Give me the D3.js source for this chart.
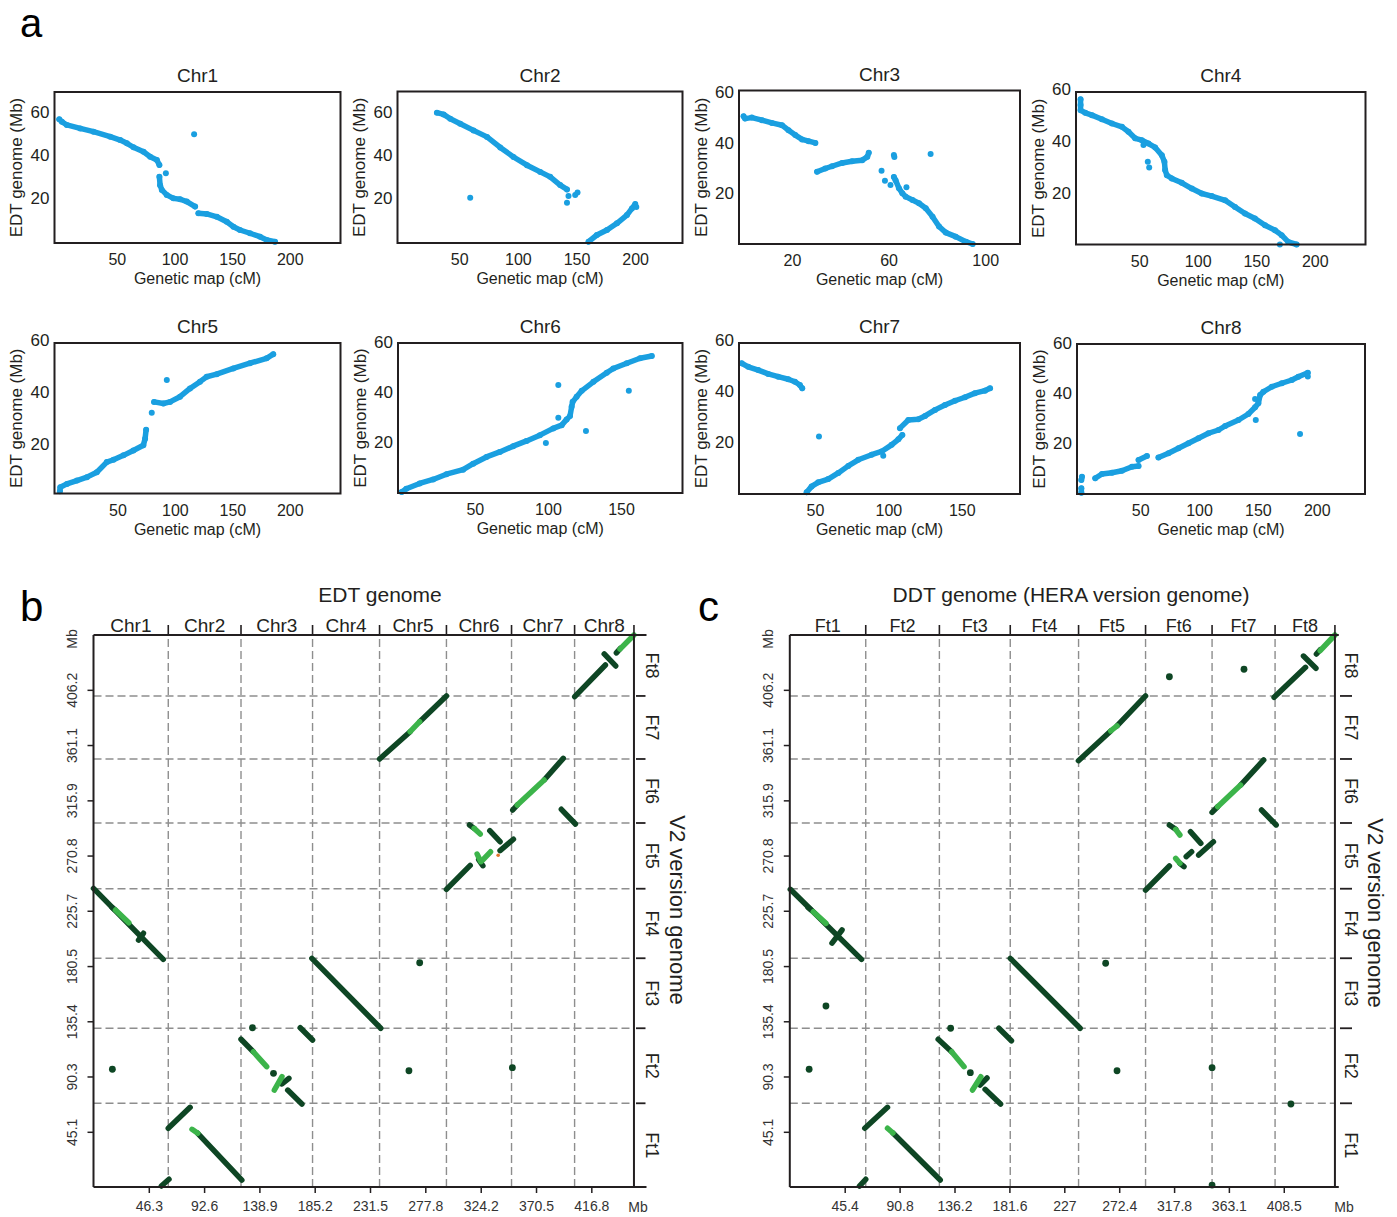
<!DOCTYPE html>
<html>
<head>
<meta charset="utf-8">
<script src="https://cdn.jsdelivr.net/npm/d3@7/dist/d3.min.js"></script>
<style>
html,body{margin:0;padding:0;background:#fff;}
svg text{font-family:"Liberation Sans",Arial,Helvetica,sans-serif;}
</style>
</head>
<body>
<svg id="fig" width="1397" height="1217"></svg>
<script>
// ================= DATA =================
// Panel a: genetic map (cM) vs EDT genome (Mb)
const chrNames = ["Chr1","Chr2","Chr3","Chr4","Chr5","Chr6","Chr7","Chr8"];
const aYTicks = [20,40,60];
const aXTicks = [[50,100,150,200],[50,100,150,200],[20,60,100],[50,100,150,200],[50,100,150,200],[50,100,150],[50,100,150],[50,100,150,200]];

const chr1Runs = [
 [[0,56.5],[2.3,55.4],[6.6,53.9],[18.2,52.3],[29.7,50.8],[44.2,48.5],[52.9,46.9],[58.7,45.4],[64.4,43.6],[73.1,41.5],[78.9,39.2],[84.7,37.7],[86.9,35.4]],
 [[86.9,30.0],[87.5,26.1],[89.0,23.9],[93.3,21.6],[99.0,20.0],[104.9,19.6],[110.7,18.5],[117.9,16.2]],
 [[120.7,13.1],[128.0,12.8],[136.7,11.5],[145.3,9.2],[151.1,6.9],[156.8,5.4],[165.5,3.9],[174.2,2.3],[180.0,0.8],[187.2,0]]
];
const chr1Out = [[117,49.6],[92.5,31.6]];
const chr2Runs = [
 [[31.0,59.7],[36.7,58.9],[42.4,56.9],[50.9,54.6],[62.2,51.5],[73.7,48.5],[85.0,43.6],[96.3,39.2],[107.8,35.4],[119.1,32.3],[127.6,30.0],[136.1,26.2],[141.9,24.2]],
 [[160.3,0],[167.4,3.1],[176.0,5.4],[184.5,8.5],[193.0,12.3],[197.3,15.4],[200.1,17.4]]
];
const chr2Out = [[59.4,20.3],[141.9,18.0],[143.2,21.1],[148.9,21.6],[150.9,22.8],[201,16]];
const chr3Runs = [
 [[0,50.4],[0.6,49.5],[3.4,49.9],[7.6,48.9],[11.7,47.8],[15.9,46.9],[18.6,44.9],[21.4,43.0],[24.2,41.3],[26.9,40.6],[29.7,39.9]],
 [[30.4,28.5],[33.8,29.8],[36.6,30.7],[40.8,32.0],[44.9,32.7],[49.1,33.1],[51.2,34.4],[51.8,36.0]],
 [[62.2,26.5],[62.9,25.2],[64.3,22.0],[65.7,20.0],[67.1,18.7],[69.9,17.4],[72.6,16.1],[75.4,14.1],[78.2,10.8],[80.9,6.9],[83.7,4.5],[87.8,2.9],[92.0,0.9],[94.8,0]]
];
const chr3Out = [[57.1,28.9],[58.5,25.0],[60.8,23.3],[62.2,35.1],[62.4,34.3],[77.4,35.5],[67.4,22.4]];
const chr4Runs = [
 [[0,56.2],[0,54.0],[0,52.0],[4.0,51.0],[9.7,50.1],[18.2,48.5],[26.8,46.9],[35.3,45.6],[40.9,43.7],[46.6,41.2],[52.3,40.5],[58.0,39.2],[63.7,37.7],[69.4,34.7],[71.6,32.2],[72.2,29.0],[73.7,27.0],[77.9,25.8],[86.4,24.1],[95.0,21.9],[103.5,20.0],[112.0,19.0],[123.4,17.4],[131.9,14.8],[140.4,12.3],[148.9,10.4],[157.5,7.8],[166.0,5.9],[171.7,4.0],[177.3,1.4],[184.5,0.4]]
];
const chr4Out = [[57.4,32.2],[58.6,30.0],[53.7,38.6],[170.2,0.4]];
const chr5Runs = [
 [[0,1.7],[0.3,3.2],[6.1,4.5],[14.8,5.8],[23.5,7.1],[32.1,9.0],[40.8,12.9],[46.6,13.8],[55.3,15.5],[63.9,17.4],[72.6,19.4],[74.1,21.9],[75.0,25.4]],
 [[81.9,36.1],[90.0,35.5],[95.8,36.1],[104.5,38.1],[113.2,41.3],[121.9,43.9],[127.7,45.8],[136.4,46.8],[150.8,49.0],[165.3,51.0],[179.8,52.9],[185.6,54.5]]
];
const chr5Out = [[79.9,31.9],[93.0,44.5]];
const chr6Runs = [
 [[0,0],[3.2,1.3],[12.3,3.4],[21.5,5.0],[30.6,7.1],[42.0,8.9],[48.9,11.3],[58.0,14.0],[67.1,16.0],[76.2,18.3],[85.4,20.4],[94.5,22.7],[103.6,25.4],[109.4,26.7],[112.8,29.0],[115.1,30.3],[116.2,34.0],[116.9,36.0],[119.6,38.0],[123.1,40.4],[131.1,44.0],[140.2,47.6],[144.7,49.3],[153.9,51.4],[163.0,53.4],[171.0,54.3]]
];
const chr6Out = [[98.6,19.6],[107.1,42.7],[107.1,29.6],[126.0,24.4],[155.3,40.4]];
const chr7Runs = [
 [[0,50.9],[4.5,49.5],[11.3,48.2],[18.1,46.7],[24.9,45.6],[31.8,44.6],[36.3,43.6],[39.7,42.3],[41.3,41.0]],
 [[44.3,0],[47.7,2.3],[52.2,3.9],[59.0,5.2],[65.9,7.6],[72.7,10.4],[79.5,12.8],[88.6,14.8],[95.4,16.1],[102.2,18.7],[106.8,20.9],[109.5,22.6]],
 [[107.9,25.3],[113.6,28.5],[120.4,28.8],[125.0,30.1],[131.8,32.5],[138.6,34.4],[145.4,36.1],[152.2,37.5],[159.0,39.1],[165.8,40.1],[169.3,41.0]]
];
const chr7Out = [[52.7,22.0],[96.5,14.4]];
const chr8Runs = [
 [[0,0],[0,1.8]],
 [[0,5.1],[0.5,6.4]],
 [[11.8,5.8],[17.5,7.5],[26.0,8.0],[34.5,8.8],[43.0,10.4],[48.6,10.7]],
 [[48.6,13.1],[55.7,14.7]],
 [[65.5,14.1],[74.0,15.8],[82.5,17.8],[91.0,19.8],[99.5,21.8],[108.0,23.8],[116.5,25.1],[122.2,26.7],[133.5,29.1],[141.9,31.5],[147.6,34.2],[150.4,35.8],[151.9,39.1],[154.7,40.4],[161.8,42.4],[170.3,43.8],[178.8,45.1],[184.4,46.4],[192.4,48.0]]
];
const chr8Out = [[148.2,29.1],[185.8,23.5],[147.6,37.5],[192.4,46.5]];

const aRuns = [chr1Runs,chr2Runs,chr3Runs,chr4Runs,chr5Runs,chr6Runs,chr7Runs,chr8Runs];
const aOut  = [chr1Out,chr2Out,chr3Out,chr4Out,chr5Out,chr6Out,chr7Out,chr8Out];

// Panel b / c: dot plots (cumulative Mb)
const edtChrNames = ["Chr1","Chr2","Chr3","Chr4","Chr5","Chr6","Chr7","Chr8"];
const edtChrEnds  = [62.6,123.5,183.4,239.5,295.5,350.0,402.8,452.5];
const ddtChrNames = ["Ft1","Ft2","Ft3","Ft4","Ft5","Ft6","Ft7","Ft8"];
const ddtChrEnds  = [62.8,123.7,182.3,238.8,294.2,349.2,401.3,450.8];
const v2ChrNames  = ["Ft1","Ft2","Ft3","Ft4","Ft5","Ft6","Ft7","Ft8"];
const v2ChrEnds   = [68.4,129.7,186.9,243.7,297.4,349.7,401.2,451.0];
const v2TickLabels  = ["45.1","90.3","135.4","180.5","225.7","270.8","315.9","361.1","406.2"];
const edtTickLabels = ["46.3","92.6","138.9","185.2","231.5","277.8","324.2","370.5","416.8"];
const ddtTickLabels = ["45.4","90.8","136.2","181.6","227","272.4","317.8","363.1","408.5"];

// segments [x1,y1,x2,y2]
const bDarkSegs = [
 [402.9,400.6,428.6,426.5],[427.6,435.5,437.2,425.7],[437.8,436.4,441.0,440.0],
 [239.5,349.7,265.1,372.0],[273.1,380.2,295.5,401.2],
 [351.0,308.0,354.8,312.1],[377.3,332.5,393.3,350.2],[391.7,308.6,403.5,296.6],
 [295.5,243.2,315.4,262.8],[322.5,267.5,326.0,262.5],[340.4,274.8,351.6,284.1],[331.8,291.1,340.4,282.1],[314.8,295.8,318.7,293.0],
 [0,244.0,58.4,186.0],[15.5,228.5,18.0,226.5],[37.7,201.8,41.8,207.3],
 [182.8,186.8,240.5,129.7],
 [123.5,120.7,133.8,110.5],[157.8,84.2,163.6,88.8],[162.6,79.2,174.5,67.8],[173.1,130.1,183.4,120.1],
 [62.6,48.0,80.9,65.1],[87.3,43.9,124.2,5.7],[56.8,0.8,63.2,6.3]
];
const bLightSegs = [
 [440.8,439.5,452.5,451.0],[265.1,372.0,273.1,380.2],[354.8,312.1,377.3,332.5],
 [326.0,267.2,332.4,273.9],[321.2,272.0,324.3,265.8],[318.7,293.0,323.8,288.4],
 [18.4,226.3,29.6,215.9],[133.8,110.5,145.0,98.3],[151.4,79.2,157.8,90.1],[82.5,47.1,87.3,43.9]
];
const bDots = [[273.1,183.2],[133.1,130.1],[15.8,96.2],[264.1,95.0],[350.7,97.5],[150.7,92.9]];
const bOddDots = [[338.8,271.0]];

const cDarkSegs = [
 [400.5,400.1,426.5,424.6],[424.8,433.8,435.1,423.8],[435.5,435.5,438.6,439.0],
 [238.7,348.3,265.4,372.6],[270.6,376.7,294.2,401.2],
 [349.2,306.1,353.8,310.7],[372.8,328.4,391.9,348.9],[390.1,308.0,402.2,295.8],
 [294.2,242.6,313.9,262.3],[322.6,264.5,326.0,261.7],[327.8,269.9,332.3,273.9],[338.1,271.2,350.3,282.1],[331.3,290.3,339.9,280.8],[313.9,295.8,319.1,292.2],
 [0.4,243.2,59.3,186.0],[15.0,228.5,17.5,226.5],[34.9,199.3,43.2,210.0],
 [182.3,186.8,240.1,129.7],
 [122.7,120.7,133.8,110.5],[157.3,83.3,163.1,89.1],[161.5,79.8,174.3,67.8],[172.9,129.7,183.3,119.5],
 [62.0,48.0,80.8,65.1],[85.3,44.1,124.4,5.7],[57.6,0.8,62.8,6.3]
];
const cLightSegs = [
 [438.6,438.2,450.8,451.0],[265.4,372.6,270.6,376.7],[353.8,310.7,372.8,328.4],
 [319.1,268.5,322.6,264.5],[319.1,292.2,322.6,287.6],
 [19.4,224.9,29.9,215.4],[133.8,110.5,144.1,98.3],[151.1,79.2,158.0,90.1],[80.8,48.0,85.3,44.1]
];
const cDots = [[313.9,416.9],[375.6,423.0],[29.9,147.9],[261.2,182.8],[133.0,129.7],[16.0,96.2],[270.6,95.0],[349.2,97.5],[414.4,67.8],[349.2,1.6],[149.3,93.4]];

// ================= DRAWING =================
const INK = "#231f20", BLUE = "#1a9fe0", DARK = "#0e4624", LIGHT = "#3cb44a", GRID = "#8e8e8e";
const svg = d3.select("#fig");

svg.append("text").attr("x",20).attr("y",37).attr("font-size",40).attr("fill","#000").text("a");
svg.append("text").attr("x",20).attr("y",621).attr("font-size",42).attr("fill","#000").text("b");
svg.append("text").attr("x",698).attr("y",621).attr("font-size",42).attr("fill","#000").text("c");

// ---- Panel a ----
const aLayout = [
 {l:54.5,r:340.5,t:92,b:243,xd:[-4.1,244],yd:[-0.6,69.1]},
 {l:397.5,r:682.5,t:91.5,b:243,xd:[-2.6,240.4],yd:[-0.6,69.5]},
 {l:739,r:1020,t:90.5,b:244,xd:[-1.9,114.4],yd:[0,60.6]},
 {l:1076,r:1365.5,t:92,b:244.5,xd:[-3.9,243.3],yd:[0.4,59]},
 {l:54.5,r:340.5,t:343,b:493.5,xd:[-4.7,244.1],yd:[0.8,58.8]},
 {l:398,r:682.5,t:343,b:493,xd:[-2.5,192],yd:[-0.4,59.5]},
 {l:739,r:1020,t:343,b:494,xd:[-1.8,189.7],yd:[-0.7,58.9]},
 {l:1077,r:1365,t:344,b:494,xd:[-3.7,241],yd:[-0.5,59.5]}
];

chrNames.forEach((name,i)=>{
  const L = aLayout[i];
  const x = d3.scaleLinear().domain(L.xd).range([L.l,L.r]);
  const y = d3.scaleLinear().domain(L.yd).range([L.b,L.t]);
  const g = svg.append("g");
  const line = d3.line().x(d=>x(d[0])).y(d=>y(d[1]));
  g.selectAll("path.run").data(aRuns[i]).join("path").attr("class","run")
    .attr("d",line).attr("fill","none").attr("stroke",BLUE).attr("stroke-width",5.5)
    .attr("stroke-linecap","round").attr("stroke-linejoin","round");
  g.selectAll("circle").data(aRuns[i].flat().concat(aOut[i])).join("circle")
    .attr("cx",d=>x(d[0])).attr("cy",d=>y(d[1])).attr("r",3).attr("fill",BLUE);
  g.append("rect").attr("x",L.l).attr("y",L.t).attr("width",L.r-L.l).attr("height",L.b-L.t)
    .attr("fill","none").attr("stroke",INK).attr("stroke-width",2);
  const xa = g.append("g").attr("transform",`translate(0,${L.b})`)
    .call(d3.axisBottom(x).tickValues(aXTicks[i]).tickSize(0).tickPadding(11));
  xa.select(".domain").remove();
  xa.selectAll("text").attr("font-size",16).attr("fill",INK);
  const ya = g.append("g").attr("transform",`translate(${L.l},0)`)
    .call(d3.axisLeft(y).tickValues(aYTicks).tickSize(0).tickPadding(5));
  ya.select(".domain").remove();
  ya.selectAll("text").attr("font-size",17).attr("fill",INK);
  const cx = (L.l+L.r)/2;
  g.append("text").attr("x",cx).attr("y",L.t-10).attr("text-anchor","middle").attr("font-size",19).attr("fill",INK).text(name);
  g.append("text").attr("x",cx).attr("y",L.b+41).attr("text-anchor","middle").attr("font-size",16).attr("fill",INK).text("Genetic map (cM)");
  g.append("text").attr("transform",`translate(${L.l-38},${(L.t+L.b)/2}) rotate(-90)`).attr("dy","0.35em")
    .attr("text-anchor","middle").attr("font-size",17).attr("fill",INK).text("EDT genome (Mb)");
});

// ---- Panels b, c ----
function dotplot(P){
  const g = svg.append("g");
  const x = d3.scaleLinear().domain([0,P.xMax]).range(P.xr);
  const y = d3.scaleLinear().domain([0,P.yMax]).range([1187,635]);
  const x0 = x(0), y0 = y(0), yTop = y(P.yMax), xAx = x(P.xMax);
  const xEnd = x(P.xEnds[P.xEnds.length-1]);
  g.selectAll("line.vg").data(P.xEnds.slice(0,-1)).join("line").attr("class","vg")
    .attr("x1",d=>x(d)).attr("x2",d=>x(d)).attr("y1",y0).attr("y2",yTop)
    .attr("stroke",GRID).attr("stroke-width",1.4).attr("stroke-dasharray","8,4");
  g.selectAll("line.hg").data(P.yEnds.slice(0,-1)).join("line").attr("class","hg")
    .attr("x1",x0).attr("x2",xEnd).attr("y1",d=>y(d)).attr("y2",d=>y(d))
    .attr("stroke",GRID).attr("stroke-width",1.4).attr("stroke-dasharray","8,4");
  const seg = (data,col,cls)=> g.selectAll("line."+cls).data(data).join("line").attr("class",cls)
    .attr("x1",d=>x(d[0])).attr("y1",d=>y(d[1])).attr("x2",d=>x(d[2])).attr("y2",d=>y(d[3]))
    .attr("stroke",col).attr("stroke-width",5.5).attr("stroke-linecap","round");
  seg(P.dark,DARK,"dk");
  seg(P.light,LIGHT,"lt");
  g.selectAll("circle.dt").data(P.dots).join("circle").attr("class","dt")
    .attr("cx",d=>x(d[0])).attr("cy",d=>y(d[1])).attr("r",3.4).attr("fill",DARK);
  g.selectAll("circle.od").data(P.odd||[]).join("circle").attr("class","od")
    .attr("cx",d=>x(d[0])).attr("cy",d=>y(d[1])).attr("r",1.8).attr("fill","#e0742a");
  const ln = (x1,y1,x2,y2,w)=> g.append("line").attr("x1",x1).attr("y1",y1).attr("x2",x2).attr("y2",y2)
    .attr("stroke",INK).attr("stroke-width",w||2);
  ln(x0,yTop,x0,y0); ln(x0,y0,xAx,y0); ln(x0,yTop,xAx,yTop); ln(xEnd,yTop,xEnd,y0);
  P.xEnds.forEach(d=>ln(x(d),yTop-10,x(d),yTop,1.6));
  P.yEnds.slice(0,-1).forEach(d=>ln(P.rt[0],y(d),P.rt[1],y(d),1.8));
  const xa = g.append("g").attr("transform",`translate(0,${y0})`)
    .call(d3.axisBottom(x).tickValues(P.xTicks.map(Number)).tickFormat((d,i)=>P.xTicks[i]).tickSize(6).tickPadding(8));
  xa.select(".domain").remove();
  xa.selectAll("line").attr("stroke",INK).attr("stroke-width",1.5);
  xa.selectAll("text").attr("font-size",14).attr("fill","#333");
  const ya = g.append("g").attr("transform",`translate(${x0},0)`)
    .call(d3.axisLeft(y).tickValues(P.yTicks.map(Number)).tickFormat((d,i)=>P.yTicks[i]).tickSize(6));
  ya.select(".domain").remove();
  ya.selectAll("line").attr("stroke",INK).attr("stroke-width",1.5);
  ya.selectAll("text").attr("x",null).attr("dy","0.35em").attr("text-anchor","middle")
    .attr("transform","translate(-21.5,0) rotate(-90)").attr("font-size",14).attr("fill","#333");
  g.append("text").attr("transform",`translate(${x0-21.5},639) rotate(-90)`).attr("dy","0.35em")
    .attr("text-anchor","middle").attr("font-size",14).attr("fill","#333").text("Mb");
  g.append("text").attr("x",P.mbX).attr("y",1211.5).attr("text-anchor","middle").attr("font-size",14).attr("fill","#333").text("Mb");
  P.xNames.forEach((n,i)=>{
    const a = i===0?0:P.xEnds[i-1], b = P.xEnds[i];
    g.append("text").attr("x",x((a+b)/2)).attr("y",632).attr("text-anchor","middle")
      .attr("font-size",P.topFont).attr("fill",INK).text(n);
  });
  P.yNames.forEach((n,i)=>{
    const a = i===0?0:P.yEnds[i-1], b = P.yEnds[i];
    g.append("text").attr("transform",`translate(${P.rlx},${y((a+b)/2)}) rotate(90)`).attr("dy","0.35em")
      .attr("text-anchor","middle").attr("font-size",18).attr("fill",INK).text(n);
  });
  g.append("text").attr("x",P.titleX).attr("y",602).attr("text-anchor","middle").attr("font-size",21).attr("fill",INK).text(P.title);
  g.append("text").attr("transform",`translate(${P.v2x},${P.v2y}) rotate(90)`).attr("dy","0.35em")
    .attr("text-anchor","middle").attr("font-size",22).attr("fill",INK).text("V2 version genome");
}

dotplot({xMax:463, xr:[93.5,646.5], yMax:451, xEnds:edtChrEnds, yEnds:v2ChrEnds,
  xNames:edtChrNames, yNames:v2ChrNames, xTicks:edtTickLabels, yTicks:v2TickLabels,
  dark:bDarkSegs, light:bLightSegs, dots:bDots, odd:bOddDots, rt:[636,645.5], rlx:652, mbX:638,
  title:"EDT genome", titleX:380, v2x:678, v2y:910, topFont:19});
dotplot({xMax:454, xr:[789.8,1338.8], yMax:451, xEnds:ddtChrEnds, yEnds:v2ChrEnds,
  xNames:ddtChrNames, yNames:v2ChrNames, xTicks:ddtTickLabels, yTicks:v2TickLabels,
  dark:cDarkSegs, light:cLightSegs, dots:cDots, rt:[1340,1352], rlx:1351, mbX:1344,
  title:"DDT genome (HERA version genome)", titleX:1071, v2x:1376, v2y:913, topFont:18});
</script>
</body>
</html>
